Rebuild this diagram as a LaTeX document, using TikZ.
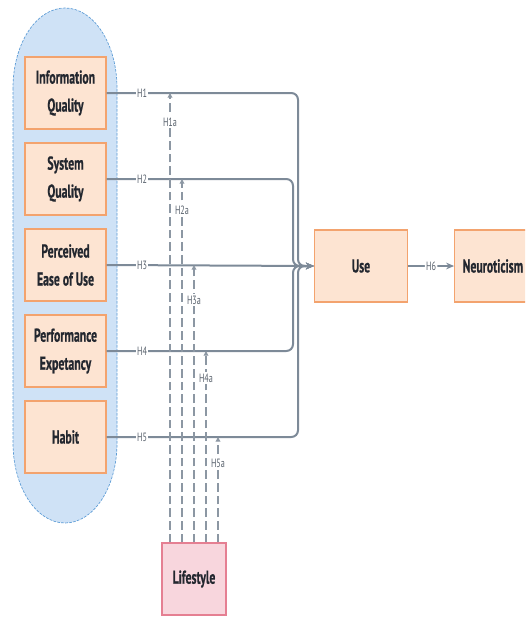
\documentclass[tikz,border=0pt]{standalone}
\usepackage{fontspec}
\setmainfont{PT Sans}
\newfontfamily\condfont[FakeStretch=0.68]{PT Sans}
\newfontfamily\boxfont[FakeStretch=0.63,FakeBold=0.6]{PT Sans Bold}
\usetikzlibrary{positioning,arrows.meta}

\definecolor{groupblue}{HTML}{CFE2F6}
\definecolor{groupline}{HTML}{5B9BD5}
\definecolor{boxpeach}{HTML}{FDE4D2}
\definecolor{boxorange}{HTML}{F3A36E}
\definecolor{lifepink}{HTML}{F8D6DD}
\definecolor{lifeline}{HTML}{E57F92}
\definecolor{linegray}{HTML}{7D8A98}
\definecolor{dashgray}{HTML}{8C97A3}
\definecolor{textdark}{HTML}{23272F}
\definecolor{labelgray}{HTML}{59626D}

\tikzset{
  factor/.style={draw=boxorange, fill=boxpeach, line width=0.9pt,
    minimum width=60.75pt, minimum height=54pt, align=center, text=textdark,
    font=\boxfont\fontsize{14}{21}\selectfont},
  lifebox/.style={factor, draw=lifeline, fill=lifepink, minimum width=48pt},
  pathline/.style={draw=linegray, line width=1.5pt, rounded corners=5pt,
    -{Stealth[length=6pt,width=5pt]}},
  modline/.style={draw=dashgray, line width=0.85pt, dash pattern=on 6.5pt off 3pt,
    -{Triangle[length=3.5pt,width=3.5pt]}},
  hlabel/.style={fill=white, inner sep=1pt, text=labelgray,
    font=\condfont\fontsize{9}{10}\selectfont},
}

\begin{document}
\begin{tikzpicture}[x=0.75pt,y=-0.75pt]
  \useasboundingbox (0,0) rectangle (525,617);
  \clip (0,0) rectangle (525,617);
  % group of the five factors
  \draw[groupline, fill=groupblue, line width=0.5pt, dash pattern=on 2pt off 1pt]
    (13,88) -- (13,443) arc[start angle=180, end angle=0, x radius=52, y radius=80]
    -- (117,88) arc[start angle=0, end angle=-180, x radius=52, y radius=80] -- cycle;

  \node[factor] (iq) at (65.5,93) {Information\\Quality};
  \node[factor, below=9.6pt of iq] (sq) {System\\Quality};
  \node[factor, below=9.6pt of sq] (pe) {Perceived\\Ease of Use};
  \node[factor, below=9.6pt of pe] (pf) {Performance\\Expetancy};
  \node[factor, below=9.6pt of pf] (hb) {Habit};

  \node[factor, minimum width=69.75pt] (use) at (361,266) {Use};
  \node[factor, minimum width=0pt, inner xsep=6pt, right=34.5pt of use] (neuro) {Neuroticism};
  \node[lifebox] (life) at (194,579) {Lifestyle};

  \coordinate (bendout) at (298,266);
  \coordinate (bendin) at (293,266);
  \coordinate (hx) at (142,0);

  \draw[pathline] (iq.east) -- (iq.east -| bendout) -- (bendout) -- (use.west);
  \draw[pathline] (sq.east) -- (sq.east -| bendin) -- (bendin) -- (use.west);
  \draw[pathline] (pe.east) -- (use.west);
  \draw[pathline] (pf.east) -- (pf.east -| bendin) -- (bendin) -- (use.west);
  \draw[pathline] (hb.east) -- (hb.east -| bendout) -- (bendout) -- (use.west);
  \draw[pathline, line width=1.2pt] (use.east) -- node[hlabel] {H6} (neuro.west);

  \node[hlabel] at (iq.east -| hx) {H1};
  \node[hlabel] at (sq.east -| hx) {H2};
  \node[hlabel] at (pe.east -| hx) {H3};
  \node[hlabel] at (pf.east -| hx) {H4};
  \node[hlabel] at (hb.east -| hx) {H5};

  % moderating paths from lifestyle
  \foreach \i/\dx/\src/\ly in {1/-18pt/iq/122, 2/-9pt/sq/210, 3/0pt/pe/300, 4/9pt/pf/378, 5/18pt/hb/463} {
    \draw[modline] ([xshift=\dx]life.north) coordinate (m\i) -- (m\i |- \src.east);
    \node[hlabel] at (m\i |- 0,\ly) {H\i a};
  }
\end{tikzpicture}
\end{document}
